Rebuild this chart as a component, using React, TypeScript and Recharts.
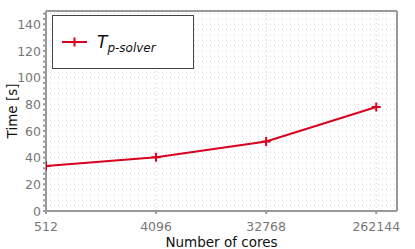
import React from "react";
import { LineChart, Line, XAxis, YAxis, CartesianGrid, ReferenceLine } from "recharts";

const cores = [512, 4096, 32768, 262144];
const tSolver = [33.7, 40.3, 52.2, 78];
const yTicks = Array.from({ length: 38 }, (_, i) => i * 4);

const RED = "#d8001e";
const AXIS = "#999";
const FONT = "DejaVu Sans, sans-serif";

const data = cores.map((c, i) => ({ cores: c, t: tSolver[i] }));

const Plus = (props: any) => {
  const { cx, cy } = props;
  if (cx == null || cy == null) return null;
  return (
    <path
      d={`M${cx - 4.5},${cy}H${cx + 4.5}M${cx},${cy - 4.5}V${cy + 4.5}`}
      stroke={RED}
      strokeWidth={2}
      fill="none"
    />
  );
};

const YTick = (props: any) => {
  const { x, y, payload } = props;
  if (payload.value % 20 !== 0) return null;
  return (
    <text x={x} y={y} dy={4.5} textAnchor="end" fill="#777" fontSize={12.5} fontFamily={FONT}>
      {payload.value}
    </text>
  );
};

const LegendBox = () => (
  <div
    style={{
      position: "absolute",
      left: 52,
      top: 15,
      width: 142,
      height: 54,
      boxSizing: "border-box",
      border: "1px solid #444",
      background: "#fff",
    }}
  >
    <svg width={140} height={52} style={{ display: "block" }}>
      <line x1={9} x2={34} y1={26} y2={26} stroke={RED} strokeWidth={2} />
      <path d="M21.5,21.5V30.5" stroke={RED} strokeWidth={2} />
      <text x={44} y={32} fontFamily={FONT} fontStyle="italic" fill="#111">
        <tspan fontSize={17}>T</tspan>
        <tspan fontSize={12} dy={4}>p-solver</tspan>
      </text>
    </svg>
  </div>
);

export default function App() {
  return (
    <div style={{ position: "absolute", left: 0, top: 0, width: 415, height: 249, background: "#fff" }}>
      <LineChart
        width={415}
        height={249}
        data={data}
        margin={{ top: 11, right: 18, left: 0, bottom: 0 }}
      >
        <CartesianGrid stroke="#d4d4d4" strokeDasharray="1 3" strokeWidth={1} />
        <XAxis
          dataKey="cores"
          type="number"
          scale="log"
          domain={[512, 388000]}
          ticks={cores}
          allowDataOverflow
          height={38}
          stroke={AXIS}
          strokeWidth={2}
          tickSize={3}
          tickMargin={8}
          tick={{ fill: "#777", fontSize: 12.5, fontFamily: FONT }}
          label={{
            value: "Number of cores",
            position: "insideBottom",
            offset: 2,
            fill: "#111",
            fontSize: 13.5,
            fontFamily: FONT,
          }}
        />
        <YAxis
          type="number"
          domain={[0, 150]}
          ticks={yTicks}
          interval={0}
          width={46}
          stroke={AXIS}
          strokeWidth={2}
          tickSize={3}
          tick={<YTick />}
          label={{
            value: "Time [s]",
            angle: -90,
            position: "insideLeft",
            offset: 12,
            fill: "#111",
            fontSize: 13.5,
            fontFamily: FONT,
            style: { textAnchor: "middle" },
          }}
        />
        <ReferenceLine y={150} stroke={AXIS} strokeWidth={2} />
        <ReferenceLine x={388000} stroke={AXIS} strokeWidth={2} />
        <Line
          dataKey="t"
          stroke={RED}
          strokeWidth={2}
          dot={<Plus />}
          activeDot={false}
          isAnimationActive={false}
        />
      </LineChart>
      <LegendBox />
    </div>
  );
}
